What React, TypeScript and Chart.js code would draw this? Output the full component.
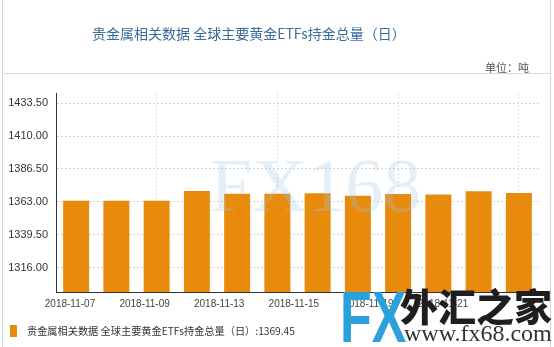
import React, { useEffect, useRef } from "react";
import { Chart, registerables } from "chart.js";

Chart.register(...registerables);

const seriesName = "贵金属相关数据 全球主要黄金ETFs持金总量（日）";
const titleText = "贵金属相关数据 全球主要黄金ETFs持金总量（日）";
const unitText = "单位：吨";
const dates = [
  "2018-11-07", "2018-11-08", "2018-11-09", "2018-11-12", "2018-11-13", "2018-11-14",
  "2018-11-15", "2018-11-16", "2018-11-19", "2018-11-20", "2018-11-21", "2018-11-22",
];
const values = [1363.9, 1363.9, 1363.8, 1370.8, 1368.9, 1368.9, 1369.2, 1367.4, 1368.7, 1368.4, 1370.6, 1369.45];
const xTickLabels = ["2018-11-07", "2018-11-09", "2018-11-13", "2018-11-15", "2018-11-19", "2018-11-21"];
const yTicks = [1316.0, 1339.5, 1363.0, 1386.5, 1410.0, 1433.5];

const BAR = "#E88A0C";
const AXIS_FONT = 'Arial, "Liberation Sans", sans-serif';
const CJK_FONT = '"Noto Sans CJK SC", "Noto Sans", sans-serif';

export default function App() {
  const ref = useRef<HTMLCanvasElement | null>(null);

  useEffect(() => {
    document.body.style.margin = "0";
    const canvas = ref.current;
    if (!canvas) return;
    const chart = new Chart(canvas, {
      type: "bar",
      data: {
        labels: dates,
        datasets: [
          {
            label: seriesName,
            data: values,
            backgroundColor: BAR,
            borderWidth: 0,
            categoryPercentage: 1,
            barPercentage: 0.645,
            xAxisID: "x",
          },
        ],
      },
      options: {
        responsive: false,
        animation: false,
        devicePixelRatio: 1,
        layout: { padding: { top: 93, right: 15, bottom: 35, left: 0 } },
        plugins: {
          legend: { display: false },
          tooltip: { enabled: false },
          title: { display: false },
        },
        scales: {
          x: {
            type: "category",
            position: "bottom",
            weight: 0,
            offset: true,
            ticks: { display: false, autoSkip: false },
            grid: {
              offset: false,
              drawTicks: false,
              color: (ctx: any) => (ctx.index % 3 === 2 ? "#dedede" : "rgba(0,0,0,0)"),
              lineWidth: 1,
            },
            border: { display: true, color: "#333", width: 1, dash: [2, 2] },
            afterFit: (s: any) => {
              s.height = 0;
            },
          },
          x2: {
            type: "linear",
            position: "bottom",
            weight: 1,
            offset: false,
            bounds: "data",
            min: -0.1877,
            max: 6.287,
            grid: { display: false, drawTicks: false, offset: false },
            border: { display: false },
            afterBuildTicks: (s: any) => {
              s.ticks = xTickLabels.map((_, i) => ({ value: i }));
            },
            ticks: {
              autoSkip: false,
              maxRotation: 0,
              padding: 6,
              color: "#444",
              font: { family: AXIS_FONT, size: 10 },
              callback: (v: any) => xTickLabels[Math.round(Number(v))] ?? "",
            },
            afterFit: (s: any) => {
              s.height = 20;
            },
          },
          y: {
            type: "linear",
            min: 1298.86,
            max: 1440.65,
            afterBuildTicks: (s: any) => {
              s.ticks = yTicks.map((v) => ({ value: v }));
            },
            ticks: {
              padding: 8,
              color: "#333",
              font: { family: AXIS_FONT, size: 11 },
              callback: (v: any) => Number(v).toFixed(2),
            },
            grid: {
              drawTicks: false,
              color: "#d4d4d4",
              lineWidth: 1,
            },
            border: { display: true, color: "#333", width: 1, dash: [2, 2] },
            afterFit: (s: any) => {
              s.width = 56;
            },
          },
        },
      },
    });
    return () => chart.destroy();
  }, []);

  const last = values[values.length - 1];

  return (
    <div
      style={{
        position: "relative",
        width: 554,
        height: 347,
        background: "#fff",
        overflow: "hidden",
      }}
    >
      <canvas ref={ref} width={554} height={347} style={{ position: "absolute", left: 0, top: 0 }} />
      <div
        style={{
          position: "absolute",
          left: 2,
          top: 0,
          width: 547,
          height: 347,
          borderLeft: "1px solid #cbd6e2",
          borderRight: "1px solid #cbd6e2",
          pointerEvents: "none",
        }}
      />
      <div
        style={{
          position: "absolute",
          left: 2,
          top: 73,
          width: 548,
          height: 0,
          borderTop: "1px solid #d3dce6",
        }}
      />
      <div
        style={{
          position: "absolute",
          left: 92,
          top: 23,
          fontFamily: CJK_FONT,
          fontSize: 14,
          lineHeight: "20px",
          color: "#3a6c9c",
          whiteSpace: "nowrap",
        }}
      >
        {titleText}
      </div>
      <div
        style={{
          position: "absolute",
          left: 485,
          top: 60,
          fontFamily: CJK_FONT,
          fontSize: 11,
          lineHeight: "14px",
          color: "#555",
          whiteSpace: "nowrap",
        }}
      >
        {unitText}
      </div>
      <div
        style={{
          position: "absolute",
          left: 210,
          top: 140,
          fontFamily: '"Liberation Serif", "DejaVu Serif", serif',
          fontSize: 76,
          lineHeight: "90px",
          color: "rgba(160,198,228,0.28)",
          whiteSpace: "nowrap",
          pointerEvents: "none",
        }}
      >
        FX168
      </div>
      <div style={{ position: "absolute", left: 10, top: 325, width: 7, height: 12, background: BAR }} />
      <div
        style={{
          position: "absolute",
          left: 27,
          top: 324,
          fontFamily: CJK_FONT,
          fontSize: 10.2,
          lineHeight: "14px",
          color: "#333",
          whiteSpace: "nowrap",
        }}
      >
        {seriesName}:{last.toFixed(2)}
      </div>
      <div
        style={{
          position: "absolute",
          left: 340,
          top: 281,
          fontFamily: '"Liberation Sans", Arial, sans-serif',
          fontWeight: 700,
          fontSize: 72,
          lineHeight: "72px",
          color: "#2aa0dc",
          transform: "scaleX(0.72)",
          transformOrigin: "left top",
          whiteSpace: "nowrap",
        }}
      >
        FX
      </div>
      <div
        style={{
          position: "absolute",
          left: 400,
          top: 284,
          fontFamily: CJK_FONT,
          fontWeight: 900,
          fontSize: 38,
          lineHeight: "42px",
          color: "#1e1e1e",
          whiteSpace: "nowrap",
        }}
      >
        外汇之家
      </div>
      <div
        style={{
          position: "absolute",
          left: 404,
          top: 320,
          fontFamily: '"Liberation Serif", "DejaVu Serif", serif',
          fontSize: 24,
          lineHeight: "26px",
          color: "#333",
          whiteSpace: "nowrap",
        }}
      >
        www.fx68.com
      </div>
    </div>
  );
}
